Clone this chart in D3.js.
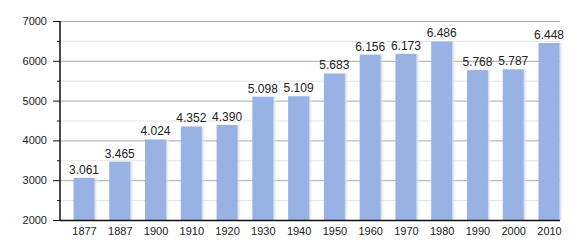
<!DOCTYPE html>
<html>
<head>
<meta charset="utf-8">
<script src="https://cdn.jsdelivr.net/npm/d3@7"></script>
<style>
  body { margin: 0; background: #fff; }
  text { font-family: "Liberation Sans", Arial, sans-serif; fill: #222; }
</style>
</head>
<body>
<svg id="chart" width="580" height="250"></svg>
<script>
var years = ["1877","1887","1900","1910","1920","1930","1940","1950","1960","1970","1980","1990","2000","2010"];
var population = [3061,3465,4024,4352,4390,5098,5109,5683,6156,6173,6486,5768,5787,6448];
var majorTicks = [2000,3000,4000,5000,6000,7000];
var minorTicks = [2500,3500,4500,5500,6500];

var svg = d3.select("#chart");
var plotLeft = 60, plotRight = 560, plotTop = 21, plotBottom = 220;

var x = d3.scalePoint().domain(years).range([84, 549]);
var y = d3.scaleLinear().domain([2000, 7000]).range([plotBottom, plotTop]);
var barW = 21;
var fmt = function(v) { return d3.format(",")(v).replace(",", "."); };

var defs = svg.append("defs");
var grad = defs.append("linearGradient").attr("id", "shade");
grad.append("stop").attr("offset", "0%").attr("stop-color", "#c3d1ee").attr("stop-opacity", 1);
grad.append("stop").attr("offset", "100%").attr("stop-color", "#ffffff").attr("stop-opacity", 0);

// grid
svg.append("g").selectAll("line").data(minorTicks).enter().append("line")
    .attr("x1", plotLeft).attr("x2", plotRight)
    .attr("y1", function(d) { return y(d) + 0.5; }).attr("y2", function(d) { return y(d) + 0.5; })
    .attr("stroke", "#e4e4e4");
svg.append("g").selectAll("line").data(majorTicks.slice(1)).enter().append("line")
    .attr("x1", plotLeft).attr("x2", plotRight)
    .attr("y1", function(d) { return y(d) + 0.5; }).attr("y2", function(d) { return y(d) + 0.5; })
    .attr("stroke", "#a8a8a8");

// soft shadow right of bars
svg.append("g").selectAll("rect").data(population).enter().append("rect")
    .attr("x", function(d, i) { return x(years[i]) + barW / 2; })
    .attr("y", function(d) { return y(d); })
    .attr("width", 4)
    .attr("height", function(d) { return plotBottom - y(d); })
    .attr("fill", "url(#shade)");

// bars
svg.append("g").selectAll("rect").data(population).enter().append("rect")
    .attr("x", function(d, i) { return x(years[i]) - barW / 2; })
    .attr("y", function(d) { return y(d); })
    .attr("width", barW)
    .attr("height", function(d) { return plotBottom - y(d); })
    .attr("fill", "#98b2e3");

// value labels
svg.append("g").selectAll("text").data(population).enter().append("text")
    .attr("x", function(d, i) { return x(years[i]); })
    .attr("y", function(d) { return y(d) - 4; })
    .attr("text-anchor", "middle")
    .attr("font-size", "12px")
    .text(fmt);

// y axis
var yAxis = d3.axisLeft(y).tickValues(majorTicks).tickSize(7).tickPadding(6).tickFormat(d3.format("d"));
var gy = svg.append("g").attr("transform", "translate(" + plotLeft + ",0)").call(yAxis);
gy.select(".domain").remove();
gy.selectAll("text").attr("font-size", "11px").style("font-family", "Liberation Sans, Arial, sans-serif").attr("fill", "#222");
gy.selectAll(".tick line").attr("stroke", "#111");
var gym = svg.append("g").attr("transform", "translate(" + plotLeft + ",0)")
    .call(d3.axisLeft(y).tickValues(minorTicks).tickSize(3).tickFormat(""));
gym.select(".domain").remove();
gym.selectAll(".tick line").attr("stroke", "#111");

svg.append("line").attr("x1", plotLeft).attr("x2", plotLeft).attr("y1", plotTop).attr("y2", plotBottom + 0.5)
    .attr("stroke", "#111").attr("stroke-width", 1.5);

// x axis
var gx = svg.append("g").attr("transform", "translate(0," + plotBottom + ")")
    .call(d3.axisBottom(x).tickSize(0).tickPadding(7));
gx.select(".domain").remove();
gx.selectAll("text").attr("font-size", "11px").style("font-family", "Liberation Sans, Arial, sans-serif").attr("fill", "#222");
svg.append("line").attr("x1", plotLeft).attr("x2", plotRight).attr("y1", plotBottom + 0.5).attr("y2", plotBottom + 0.5)
    .attr("stroke", "#111").attr("stroke-width", 1.5);
</script>
</body>
</html>
